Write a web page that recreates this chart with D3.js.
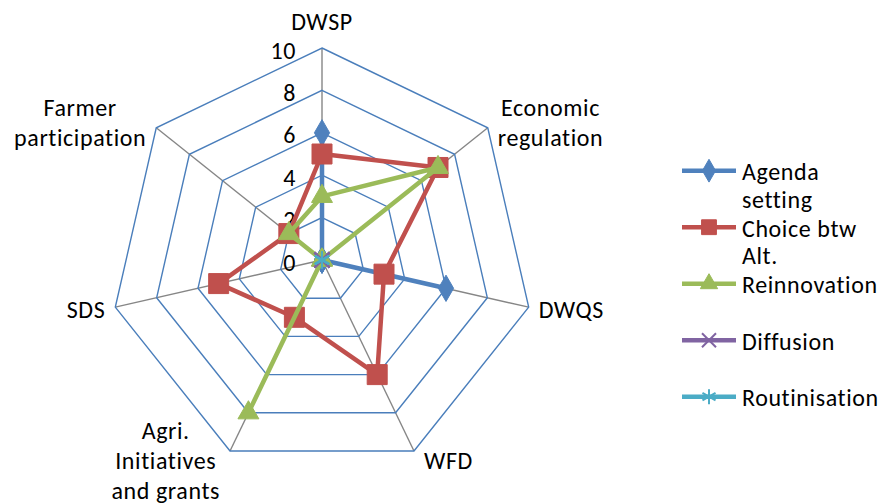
<!DOCTYPE html>
<html>
<head>
<meta charset="utf-8">
<script src="https://cdn.jsdelivr.net/npm/d3@7"></script>
<style>
  html, body { margin: 0; padding: 0; background: #fff; }
  svg { display: block; }
  text { font-family: Carlito, Lato, "Open Sans", sans-serif; fill: #000; letter-spacing: 0.6px; }
</style>
</head>
<body>
<svg id="chart" width="883" height="504"></svg>
<script>
// Radar axes (label lines as drawn)
const categories = ["DWSP", "Economic regulation", "DWQS", "WFD", "Agri. Initiatives and grants", "SDS", "Farmer participation"];
const categoryLines = [["DWSP"], ["Economic", "regulation"], ["DWQS"], ["WFD"], ["Agri.", "Initiatives", "and grants"], ["SDS"], ["Farmer", "participation"]];

// Stage series
const seriesNames = ["Agenda setting", "Choice btw Alt.", "Reinnovation", "Diffusion", "Routinisation"];
const seriesLegendLines = [["Agenda", "setting"], ["Choice btw", "Alt."], ["Reinnovation"], ["Diffusion"], ["Routinisation"]];
const agendaSetting = [6, 0, 6, 0, 0, 0, 0];
const choiceBtwAlt  = [5, 7, 3, 6, 3, 5, 2];
const reinnovation  = [3, 7, 0, 0, 8, 0, 2];
const diffusion     = [0, 0, 0, 0, 0, 0, 0];
const routinisation = [0, 0, 0, 0, 0, 0, 0];
const seriesValues = [agendaSetting, choiceBtwAlt, reinnovation, diffusion, routinisation];

// Radial axis ticks
const tickValues = [0, 2, 4, 6, 8, 10];

const colors = ["#4F81BD", "#C0504D", "#9BBB59", "#8064A2", "#4BACC6"];
const symbols = [d3.symbolDiamond, d3.symbolSquare, d3.symbolTriangle, d3.symbolTimes, d3.symbolAsterisk];
const filledSymbol = [true, true, true, false, false];
const plotSizes = [200, 400, 190, 150, 190];
const legendSizes = [150, 220, 130, 130, 160];

const fontSize = 24;
const svg = d3.select("#chart");
const cx = 322, cy = 260, R = 212;

const r = d3.scaleLinear().domain([0, 10]).range([0, R]);
const angle = d3.scalePoint()
  .domain(categories)
  .range([0, 2 * Math.PI * (categories.length - 1) / categories.length]);

const g = svg.append("g").attr("transform", `translate(${cx},${cy})`);

function pt(cat, v) {
  const a = angle(cat);
  return [r(v) * Math.sin(a), -r(v) * Math.cos(a)];
}

// Spokes
g.append("g").selectAll("line")
  .data(categories)
  .join("line")
  .attr("x1", 0).attr("y1", 0)
  .attr("x2", d => pt(d, 10)[0])
  .attr("y2", d => pt(d, 10)[1])
  .attr("stroke", "#868686")
  .attr("stroke-width", 1.4);

// Grid rings
g.append("g").selectAll("polygon")
  .data(tickValues.filter(v => v > 0))
  .join("polygon")
  .attr("points", v => categories.map(c => pt(c, v).join(",")).join(" "))
  .attr("fill", "none")
  .attr("stroke", "#4A7EBB")
  .attr("stroke-width", 1.4);

// Tick labels
g.append("g").selectAll("text")
  .data(tickValues)
  .join("text")
  .attr("x", -26)
  .attr("y", v => -r(v) + 10.5)
  .attr("text-anchor", "end")
  .attr("font-size", fontSize)
  .text(v => v);

// Series lines
const radialLine = d3.lineRadial()
  .angle((d, i) => angle(categories[i]))
  .radius(d => r(d))
  .curve(d3.curveLinearClosed);

const series = g.append("g").selectAll("g")
  .data(seriesValues.map((vals, k) => ({ vals, k })))
  .join("g");

series.append("path")
  .attr("d", d => radialLine(d.vals))
  .attr("fill", "none")
  .attr("stroke", d => colors[d.k])
  .attr("stroke-width", 4.5)
  .attr("stroke-linejoin", "round");

series.each(function (s) {
  d3.select(this).selectAll("path.marker")
    .data(s.vals)
    .join("path")
    .attr("class", "marker")
    .attr("transform", (v, i) => `translate(${pt(categories[i], v)})`)
    .attr("d", d3.symbol().type(symbols[s.k]).size(plotSizes[s.k]))
    .attr("fill", filledSymbol[s.k] ? colors[s.k] : "none")
    .attr("stroke", colors[s.k])
    .attr("stroke-width", filledSymbol[s.k] ? 1 : 2);
});

// Category labels
const labelG = g.append("g");
categories.forEach((cat, i) => {
  const a = angle(cat);
  const [vx, vy] = pt(cat, 10);
  const s = Math.sin(a), c = Math.cos(a);
  const lines = categoryLines[i];
  const lh = 30;
  const t = labelG.append("text").attr("font-size", fontSize).attr("text-anchor", "middle");
  lines.forEach(l => t.append("tspan").text(l));
  const w = d3.max(t.selectAll("tspan").nodes(), n => n.getComputedTextLength());
  let xc, firstBase;
  if (Math.abs(s) < 0.05) {
    xc = vx;
    firstBase = vy - 18 - (lines.length - 1) * lh;
  } else {
    xc = s > 0 ? vx + 10 + w / 2 : vx - 10 - w / 2;
    const yc = vy + 2 - 10 * c;
    firstBase = yc - (lines.length - 1) * lh / 2 + 7;
  }
  t.selectAll("tspan")
    .attr("x", xc)
    .attr("y", (d, j) => firstBase + j * lh);
});

// Legend
const legend = svg.append("g");
const legendTop = 170.7, legendStep = 56.5;
seriesNames.forEach((name, k) => {
  const y = legendTop + k * legendStep;
  const item = legend.append("g").attr("transform", `translate(0,${y})`);
  item.append("line")
    .attr("x1", 682).attr("x2", 736)
    .attr("y1", 0).attr("y2", 0)
    .attr("stroke", colors[k])
    .attr("stroke-width", 4.5);
  item.append("path")
    .attr("transform", "translate(709,0)")
    .attr("d", d3.symbol().type(symbols[k]).size(legendSizes[k]))
    .attr("fill", filledSymbol[k] ? colors[k] : "none")
    .attr("stroke", colors[k])
    .attr("stroke-width", filledSymbol[k] ? 1 : 2);
  const t = item.append("text").attr("font-size", fontSize);
  seriesLegendLines[k].forEach((l, j) => {
    t.append("tspan").attr("x", 742).attr("y", 9.5 + j * 27.5).text(l);
  });
});
</script>
</body>
</html>
